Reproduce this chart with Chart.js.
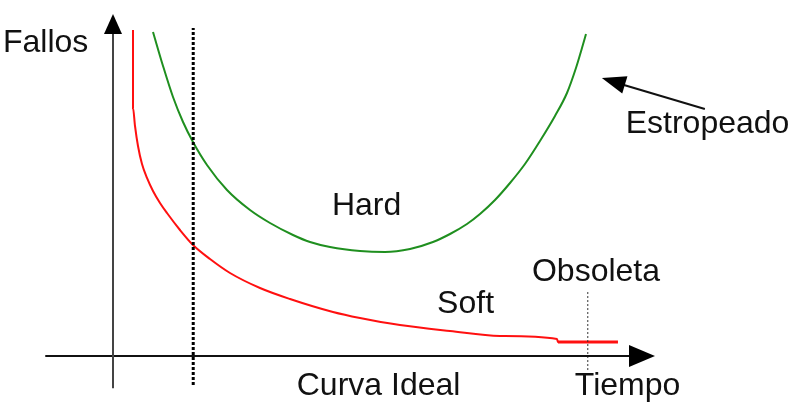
<!DOCTYPE html>
<html>
<head>
<meta charset="utf-8">
<script src="https://cdn.jsdelivr.net/npm/chart.js@4/dist/chart.umd.min.js"></script>
<style>
html,body{margin:0;padding:0;background:#fff;}
#wrap{width:803px;height:411px;}
</style>
</head>
<body>
<div id="wrap"><canvas id="c" width="803" height="411"></canvas></div>
<script>
// Time (x) and failures (y) in arbitrary chart units
const hardX = [7.38, 9.23, 11.07, 12.92, 14.76, 17.34, 21.03, 25.28, 28.97, 33.21, 36.35, 40.04, 45.57, 50.18, 54.80, 59.04, 62.18, 65.31, 67.71, 70.48, 73.25, 76.01, 78.78, 81.55, 83.76, 85.42, 86.53, 87.27];
const hardY = [94.74, 84.80, 75.73, 68.42, 62.57, 55.85, 48.54, 42.69, 38.89, 35.38, 33.33, 31.87, 30.70, 30.41, 31.29, 33.33, 35.67, 38.60, 41.52, 45.61, 50.58, 56.14, 62.87, 70.18, 76.90, 84.21, 90.06, 94.15];
const softX = [3.69, 3.69, 4.06, 4.61, 5.35, 6.27, 7.38, 8.67, 9.96, 12.36, 14.76, 17.90, 21.59, 27.12, 32.66, 40.59, 45.57, 52.95, 62.18, 71.40, 81.92, 82.10, 93.17];
const softY = [95.32, 72.51, 67.25, 61.40, 56.14, 52.05, 48.25, 44.74, 41.81, 36.84, 32.46, 28.36, 24.27, 19.88, 16.67, 12.87, 11.11, 9.06, 7.31, 5.85, 4.97, 4.09, 4.09];
const idealX = 14.8;        // "Curva Ideal" marker
const idealRange = [-8.5, 95.9];
const obsoletaX = 87.6;     // "Obsoleta" marker
const obsoletaRange = [-4.1, 19.3];
const axisXRange = [-12.5, 100];
const axisYRange = [-9.4, 100];
const labels = ["Fallos", "Estropeado", "Hard", "Soft", "Obsoleta", "Curva Ideal", "Tiempo"];
const labelX = [-20.3, 94.6, 40.4, 59.8, 77.3, 33.9, 85.2];
const labelY = [88.9, 65.2, 41.2, 12.6, 21.9, -11.4, -11.4];
// "Estropeado" pointer: from (tail) to (tip)
const pointerFrom = [109.2, 72.2];
const pointerTo = [90.2, 81.3];

const pts = (xs, ys) => xs.map((x, i) => ({x: x, y: ys[i]}));

const overlay = {
  id: 'overlay',
  afterDatasetsDraw(chart) {
    const ctx = chart.ctx, sx = chart.scales.x, sy = chart.scales.y;
    const px = v => sx.getPixelForValue(v), py = v => sy.getPixelForValue(v);
    ctx.save();
    // Axis arrowheads
    ctx.fillStyle = '#000';
    ctx.beginPath();
    ctx.moveTo(px(0), py(axisYRange[1]));
    ctx.lineTo(px(0) - 9, py(axisYRange[1]) + 20);
    ctx.lineTo(px(0) + 9, py(axisYRange[1]) + 20);
    ctx.closePath(); ctx.fill();
    ctx.beginPath();
    ctx.moveTo(px(axisXRange[1]), py(0));
    ctx.lineTo(px(axisXRange[1]) - 26, py(0) - 11);
    ctx.lineTo(px(axisXRange[1]) - 26, py(0) + 11);
    ctx.closePath(); ctx.fill();
    // Estropeado pointer
    const x1 = px(pointerFrom[0]), y1 = py(pointerFrom[1]);
    const x2 = px(pointerTo[0]), y2 = py(pointerTo[1]);
    ctx.strokeStyle = '#111'; ctx.lineWidth = 2;
    ctx.beginPath(); ctx.moveTo(x1, y1); ctx.lineTo(x2 + 12, y2 + 4); ctx.stroke();
    const ang = Math.atan2(y1 - y2, x1 - x2);
    const L = 24, W = 9;
    ctx.beginPath();
    ctx.moveTo(x2, y2);
    ctx.lineTo(x2 + L * Math.cos(ang) - W * Math.sin(ang), y2 + L * Math.sin(ang) + W * Math.cos(ang));
    ctx.lineTo(x2 + L * Math.cos(ang) + W * Math.sin(ang), y2 + L * Math.sin(ang) - W * Math.cos(ang));
    ctx.closePath(); ctx.fill();
    // Labels
    ctx.fillStyle = '#111';
    ctx.font = '32px "Liberation Sans", Arial, sans-serif';
    ctx.textAlign = 'left'; ctx.textBaseline = 'alphabetic';
    labels.forEach((t, i) => ctx.fillText(t, px(labelX[i]), py(labelY[i])));
    ctx.restore();
  }
};

new Chart(document.getElementById('c'), {
  type: 'scatter',
  data: {
    datasets: [
      {label: 'ejeY', data: [{x: 0, y: axisYRange[0]}, {x: 0, y: axisYRange[1] - 4}], showLine: true, borderColor: '#444', borderWidth: 2, pointRadius: 0},
      {label: 'ejeX', data: [{x: axisXRange[0], y: 0}, {x: axisXRange[1] - 3, y: 0}], showLine: true, borderColor: '#111', borderWidth: 2, pointRadius: 0},
      {label: 'Curva Ideal', data: [{x: idealX, y: idealRange[0]}, {x: idealX, y: idealRange[1]}], showLine: true, borderColor: '#000', borderWidth: 3, borderDash: [3, 2], pointRadius: 0},
      {label: 'Obsoleta', data: [{x: obsoletaX, y: obsoletaRange[0]}, {x: obsoletaX, y: obsoletaRange[1]}], showLine: true, borderColor: '#333', borderWidth: 1, borderDash: [2, 2], pointRadius: 0},
      {label: 'Hard', data: pts(hardX, hardY), showLine: true, borderColor: '#1f8f1f', borderWidth: 2, pointRadius: 0, cubicInterpolationMode: 'monotone'},
      {label: 'Soft', data: pts(softX, softY), showLine: true, borderColor: '#ff1010', borderWidth: 2, pointRadius: 0, cubicInterpolationMode: 'monotone',
        segment: {borderWidth: c => (c.p0.parsed.x >= 82 ? 3 : 2)}}
    ]
  },
  options: {
    responsive: false,
    animation: false,
    devicePixelRatio: 1,
    layout: {padding: 0},
    plugins: {legend: {display: false}, tooltip: {enabled: false}},
    scales: {
      x: {type: 'linear', display: false, min: -20.85, max: 127.31},
      y: {type: 'linear', display: false, min: -16.08, max: 104.09}
    }
  },
  plugins: [overlay]
});
</script>
</body>
</html>
